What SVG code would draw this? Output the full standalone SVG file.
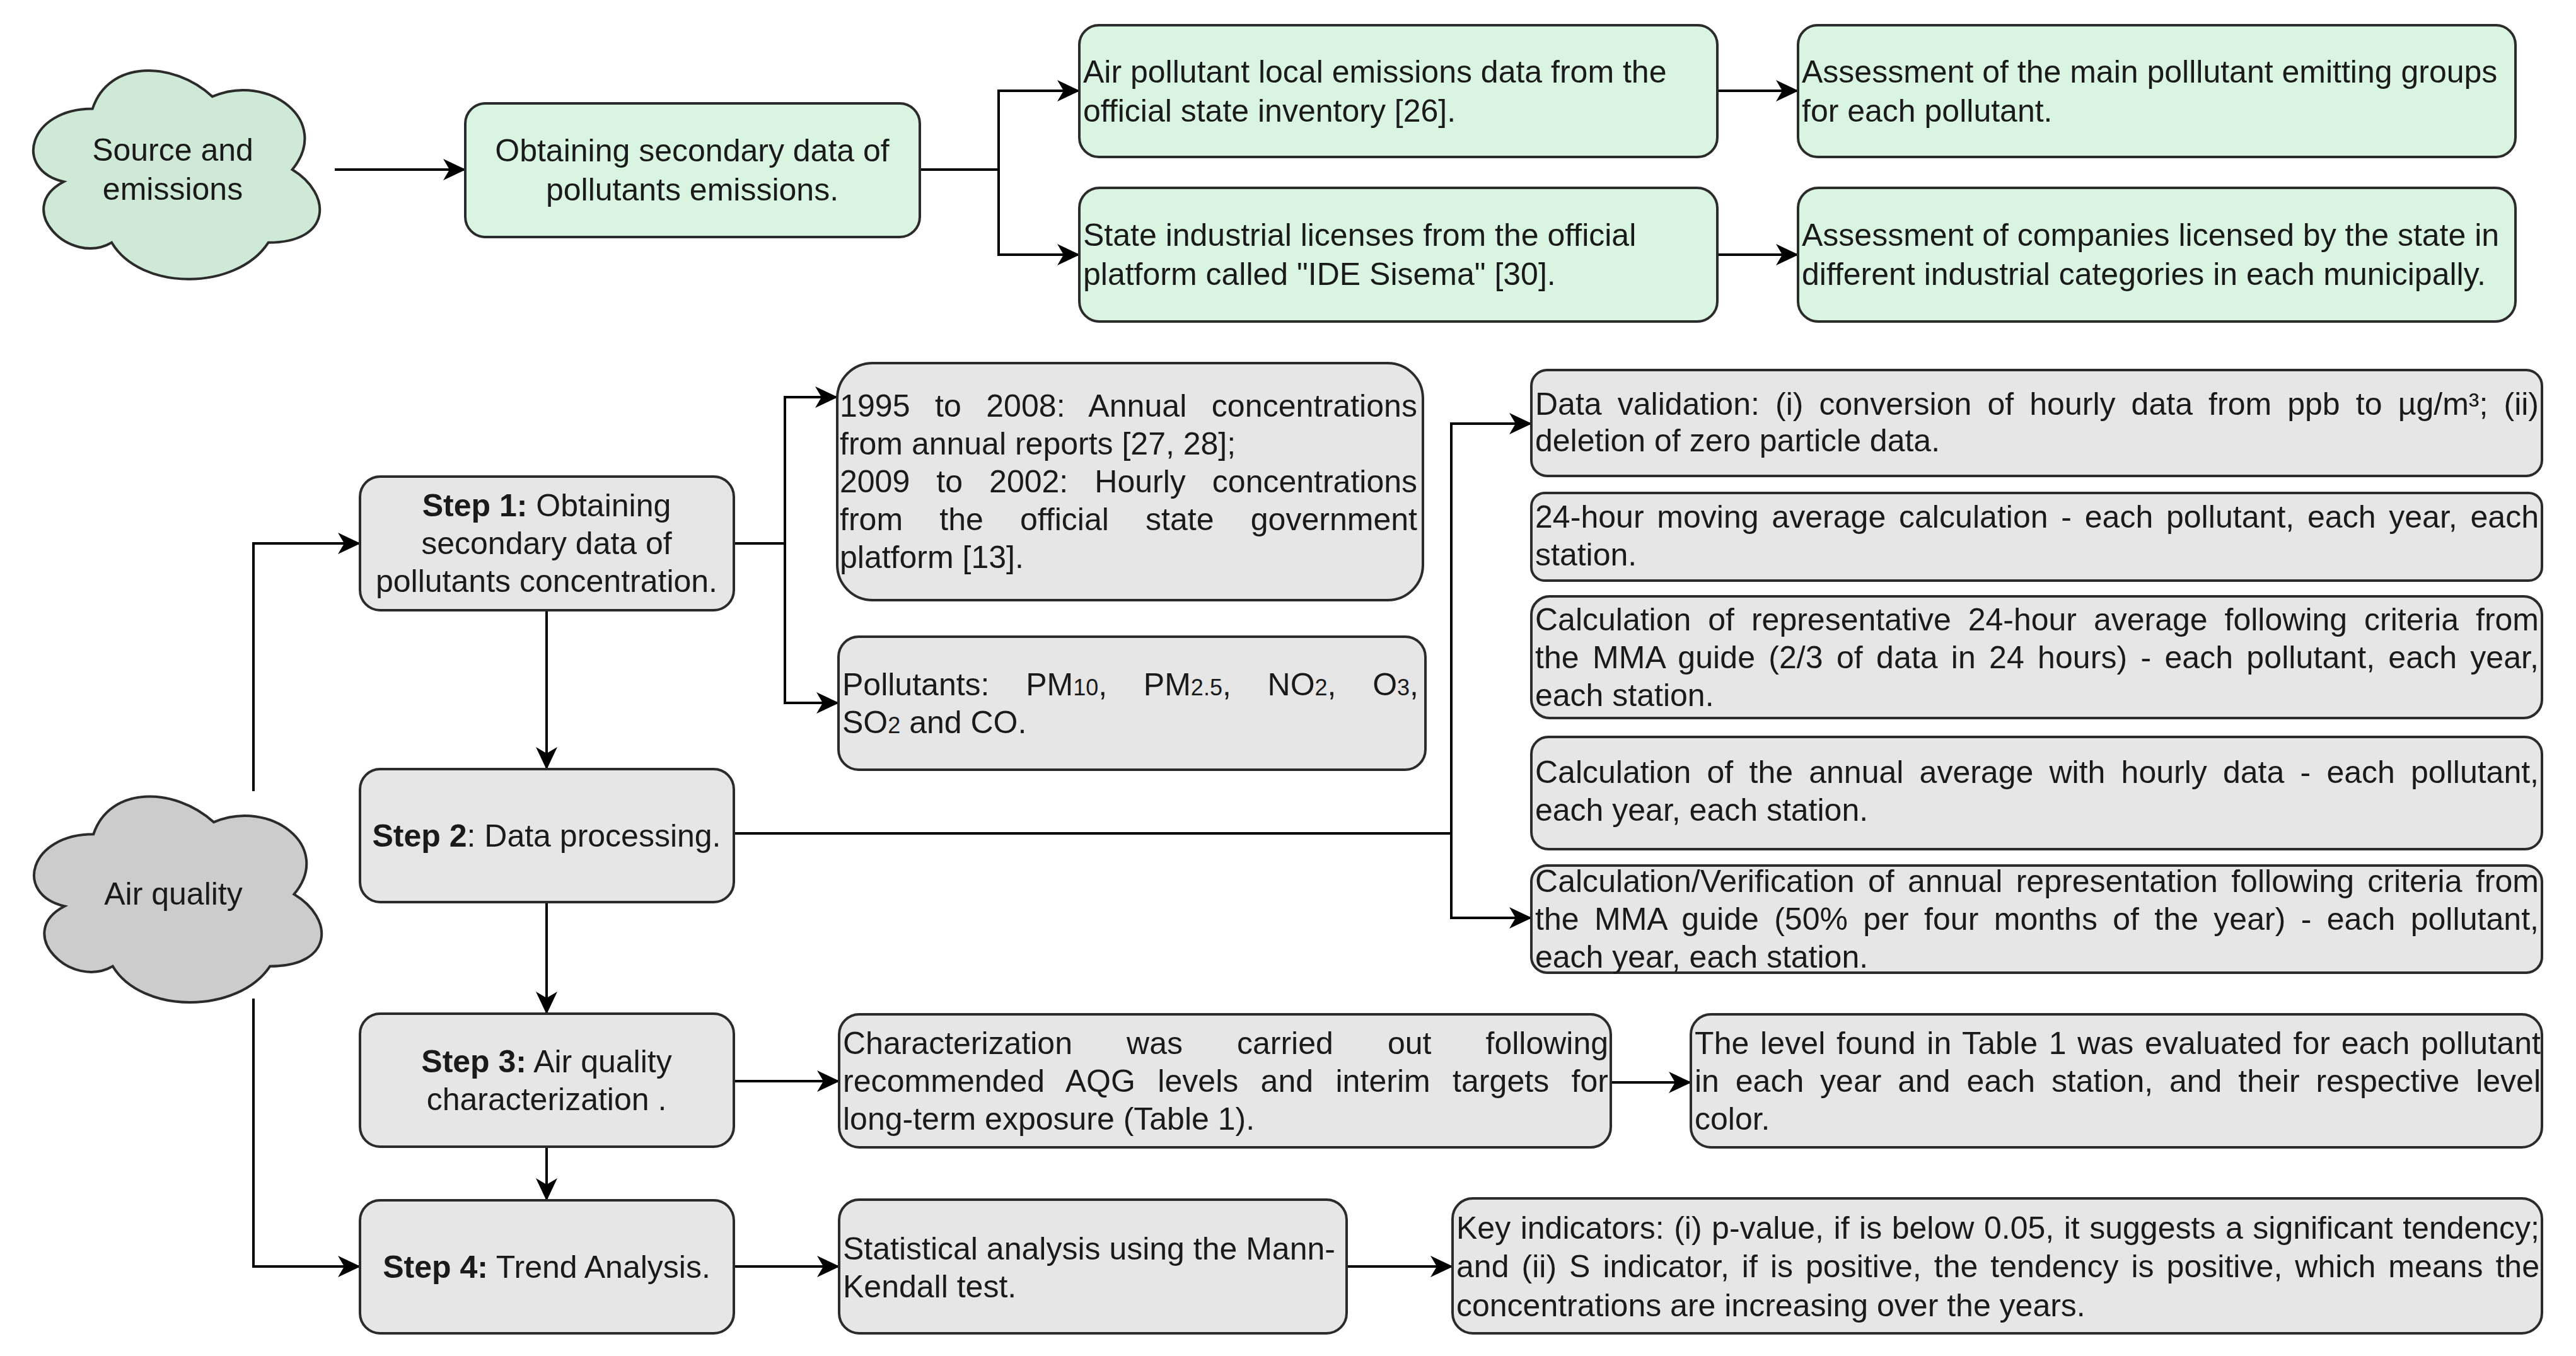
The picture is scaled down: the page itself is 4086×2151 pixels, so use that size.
<svg xmlns="http://www.w3.org/2000/svg" width="4086" height="2151" viewBox="0 0 4086 2151">
<defs>
<style>
text { font-family: "Liberation Sans", Arial, sans-serif; font-size: 50px; fill: #1a1a1a; }
.c { text-anchor: middle; }
.g { fill: #d9f5e1; stroke: #2b2b2b; stroke-width: 4; }
.b { fill: #e6e6e6; stroke: #2b2b2b; stroke-width: 4; }
.cl1 { fill: #cfe9d7; stroke: #2b2b2b; stroke-width: 4; }
.cl2 { fill: #cccccc; stroke: #2b2b2b; stroke-width: 4; }
.e { fill: none; stroke: #000; stroke-width: 4; marker-end: url(#arr); }
.sub { font-size: 36px; }
.bd { font-weight: bold; }
</style>
<marker id="arr" markerUnits="userSpaceOnUse" markerWidth="40" markerHeight="36" refX="35" refY="18" orient="auto">
<path d="M0,1 L36,18 L0,35 L10,18 Z" fill="#000"/>
</marker>
</defs>
<rect width="4086" height="2151" fill="#ffffff"/>

<g id="connectors">
<path class="e" d="M531,269 H738"/>
<path class="e" d="M1459,269 H1584 V144 H1712"/>
<path class="e" d="M1459,269 H1584 V404 H1712"/>
<path class="e" d="M2724,144 H2852"/>
<path class="e" d="M2724,404 H2852"/>
<path class="e" d="M402,1255 V862 H571"/>
<path class="e" d="M402,1584 V2009 H571"/>
<path class="e" d="M867,968 V1220"/>
<path class="e" d="M867,1431 V1608"/>
<path class="e" d="M867,1819 V1904"/>
<path class="e" d="M1164,862 H1245 V630 H1328"/>
<path class="e" d="M1164,862 H1245 V1115 H1330"/>
<path class="e" d="M1164,1322 H2302 V672 H2429"/>
<path class="e" d="M1164,1322 H2302 V1456 H2429"/>
<path class="e" d="M1164,1715 H1331"/>
<path class="e" d="M2555,1717 H2682"/>
<path class="e" d="M1164,2009 H1331"/>
<path class="e" d="M2136,2009 H2304"/>
</g>

<g id="cloud-source">
<path class="cl1" d="M146.75,172.5 C45.35,172.5 20,269 101.12,288.3 C20,330.76 111.26,423.4 177.17,384.8 C222.8,462 374.9,462 425.6,384.8 C527,384.8 527,307.6 463.6,269 C527,191.8 425.6,114.6 336.9,153.2 C273.5,95.3 172.1,95.3 146.75,172.5 Z"/>
<text class="c" x="274" y="255">Source and</text>
<text class="c" x="274" y="317">emissions</text>
</g>

<g id="box-obtaining-emissions">
<rect class="g" x="738" y="164" width="721" height="212" rx="32"/>
<text class="c" x="1098" y="256">Obtaining secondary data of</text>
<text class="c" x="1098" y="318">pollutants emissions.</text>
</g>

<g id="box-air-pollutant">
<rect class="g" x="1712" y="40" width="1012" height="209" rx="31"/>
<text x="1718" y="131">Air pollutant local emissions data from the</text>
<text x="1718" y="193">official state inventory [26].</text>
</g>

<g id="box-assessment-groups">
<rect class="g" x="2852" y="40" width="1138" height="209" rx="31"/>
<text x="2858" y="131">Assessment of the main polllutant emitting groups</text>
<text x="2858" y="193">for each pollutant.</text>
</g>

<g id="box-state-licenses">
<rect class="g" x="1712" y="298" width="1012" height="212" rx="32"/>
<text x="1718" y="390">State industrial licenses from the official</text>
<text x="1718" y="452">platform called "IDE Sisema" [30].</text>
</g>

<g id="box-assessment-companies">
<rect class="g" x="2852" y="298" width="1138" height="212" rx="32"/>
<text x="2858" y="390">Assessment of companies licensed by the state in</text>
<text x="2858" y="452">different industrial categories in each municipally.</text>
</g>

<g id="cloud-air">
<path class="cl2" d="M148.25,1323.25 C46.45,1323.25 21,1418.5 102.44,1437.55 C21,1479.46 112.62,1570.9 178.79,1532.8 C224.6,1609 377.3,1609 428.2,1532.8 C530,1532.8 530,1456.6 466.375,1418.5 C530,1342.3 428.2,1266.1 339.125,1304.2 C275.5,1247.05 173.7,1247.05 148.25,1323.25 Z"/>
<text class="c" x="275" y="1435">Air quality</text>
</g>

<g id="step1">
<rect class="b" x="571" y="756" width="593" height="212" rx="32"/>
<text class="c" x="867" y="819"><tspan class="bd">Step 1:</tspan> Obtaining</text>
<text class="c" x="867" y="879">secondary data of</text>
<text class="c" x="867" y="939">pollutants concentration.</text>
</g>

<g id="step2">
<rect class="b" x="571" y="1220" width="593" height="211" rx="32"/>
<text class="c" x="867" y="1343"><tspan class="bd">Step 2</tspan>: Data processing.</text>
</g>

<g id="step3">
<rect class="b" x="571" y="1608" width="593" height="211" rx="32"/>
<text class="c" x="867" y="1701"><tspan class="bd">Step 3:</tspan> Air quality</text>
<text class="c" x="867" y="1761">characterization .</text>
</g>

<g id="step4">
<rect class="b" x="571" y="1904" width="593" height="211" rx="32"/>
<text class="c" x="867" y="2027"><tspan class="bd">Step 4:</tspan> Trend Analysis.</text>
</g>

<g id="box-years">
<rect class="b" x="1328" y="576" width="929" height="376" rx="56"/>
<text x="1332" y="661" style="word-spacing:25.4px" textLength="916" lengthAdjust="spacing">1995 to 2008: Annual concentrations</text>
<text x="1332" y="721">from annual reports [27, 28];</text>
<text x="1332" y="781" style="word-spacing:28.2px" textLength="916" lengthAdjust="spacing">2009 to 2002: Hourly concentrations</text>
<text x="1332" y="841" style="word-spacing:44.2px" textLength="916" lengthAdjust="spacing">from the official state government</text>
<text x="1332" y="901">platform [13].</text>
</g>

<g id="box-pollutants">
<rect class="b" x="1330" y="1010" width="931" height="211" rx="32"/>
<text x="1336" y="1103" style="word-spacing:43.8px" textLength="914" lengthAdjust="spacing">Pollutants: PM<tspan class="sub">10</tspan>, PM<tspan class="sub">2.5</tspan>, NO<tspan class="sub">2</tspan>, O<tspan class="sub">3</tspan>,</text>
<text x="1336" y="1163">SO<tspan class="sub">2</tspan> and CO.</text>
</g>

<g id="box-validation">
<rect class="b" x="2429" y="587" width="1603" height="168" rx="25"/>
<text x="2435" y="658" style="word-spacing:11.25px" textLength="1592" lengthAdjust="spacing">Data validation: (i) conversion of hourly data from ppb to µg/m³; (ii)</text>
<text x="2435" y="716">deletion of zero particle data.</text>
</g>

<g id="box-moving-average">
<rect class="b" x="2429" y="782" width="1603" height="139" rx="21"/>
<text x="2435" y="837" style="word-spacing:6.74px" textLength="1592" lengthAdjust="spacing">24-hour moving average calculation - each pollutant, each year, each</text>
<text x="2435" y="897">station.</text>
</g>

<g id="box-representative">
<rect class="b" x="2429" y="946" width="1603" height="193" rx="29"/>
<text x="2435" y="1000" style="word-spacing:13.06px" textLength="1592" lengthAdjust="spacing">Calculation of representative 24-hour average following criteria from</text>
<text x="2435" y="1060" style="word-spacing:7.23px" textLength="1592" lengthAdjust="spacing">the MMA guide (2/3 of data in 24 hours) - each pollutant, each year,</text>
<text x="2435" y="1120">each station.</text>
</g>

<g id="box-annual-average">
<rect class="b" x="2429" y="1169" width="1603" height="178" rx="27"/>
<text x="2435" y="1242" style="word-spacing:11.34px" textLength="1592" lengthAdjust="spacing">Calculation of the annual average with hourly data - each pollutant,</text>
<text x="2435" y="1302">each year, each station.</text>
</g>

<g id="box-verification">
<rect class="b" x="2429" y="1373" width="1603" height="170" rx="25"/>
<text x="2435" y="1415" style="word-spacing:7.37px" textLength="1592" lengthAdjust="spacing">Calculation/Verification of annual representation following criteria from</text>
<text x="2435" y="1475" style="word-spacing:10.38px" textLength="1592" lengthAdjust="spacing">the MMA guide (50% per four months of the year) - each pollutant,</text>
<text x="2435" y="1535">each year, each station.</text>
</g>

<g id="box-characterization">
<rect class="b" x="1331" y="1609" width="1224" height="211" rx="32"/>
<text x="1337" y="1672" style="word-spacing:72.2px" textLength="1214" lengthAdjust="spacing">Characterization was carried out following</text>
<text x="1337" y="1732" style="word-spacing:21.25px" textLength="1214" lengthAdjust="spacing">recommended AQG levels and interim targets for</text>
<text x="1337" y="1792">long-term exposure (Table 1).</text>
</g>

<g id="box-level">
<rect class="b" x="2682" y="1609" width="1350" height="211" rx="32"/>
<text x="2688" y="1672" style="word-spacing:3.57px" textLength="1342" lengthAdjust="spacing">The level found in Table 1 was evaluated for each pollutant</text>
<text x="2688" y="1732" style="word-spacing:12px" textLength="1342" lengthAdjust="spacing">in each year and each station, and their respective level</text>
<text x="2688" y="1792">color.</text>
</g>

<g id="box-statistical">
<rect class="b" x="1331" y="1903" width="805" height="212" rx="32"/>
<text x="1337" y="1998">Statistical analysis using the Mann-</text>
<text x="1337" y="2058">Kendall test.</text>
</g>

<g id="box-key">
<rect class="b" x="2304" y="1901" width="1728" height="214" rx="32"/>
<text x="2310" y="1965" style="word-spacing:1.67px" textLength="1718" lengthAdjust="spacing">Key indicators: (i) p-value, if is below 0.05, it suggests a significant tendency;</text>
<text x="2310" y="2026" style="word-spacing:6.03px" textLength="1718" lengthAdjust="spacing">and (ii) S indicator, if is positive, the tendency is positive, which means the</text>
<text x="2310" y="2088">concentrations are increasing over the years.</text>
</g>
</svg>
